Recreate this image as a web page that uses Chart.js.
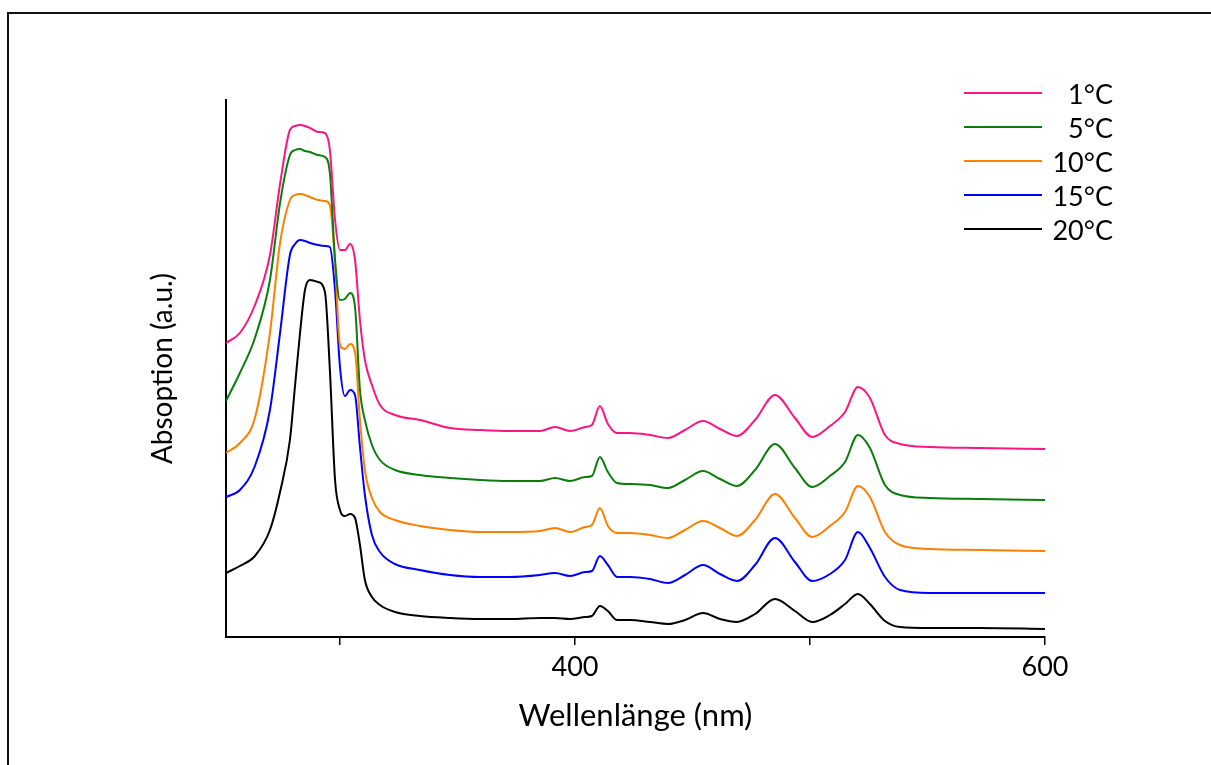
<!DOCTYPE html>
<html>
<head>
<meta charset="utf-8">
<script src="https://cdn.jsdelivr.net/npm/chart.js@4/dist/chart.umd.min.js"></script>
<style>
    html, body { margin: 0; padding: 0; background: #fff; }
    #wrap { position: relative; width: 1211px; height: 765px; overflow: hidden; }
    #frame { position: absolute; left: 7px; top: 12px; width: 1300px; height: 900px;
             border-left: 2px solid #111; border-top: 2px solid #111; }
    canvas { position: absolute; left: 0; top: 0; }
</style>
</head>
<body>
<div id="wrap">
    <div id="frame"></div>
    <canvas id="spectraChart" width="1211" height="765"></canvas>
</div>
<script>
// Wavelength grid (nm)
const wavelengths = [251.5, 257.4, 263.8, 270.2, 274.5, 278.7, 280.9, 283.0, 285.1, 287.2,
    290.6, 293.6, 295.7, 297.9, 300.0, 302.1, 304.3, 306.4, 308.5, 310.6,
    313.6, 317.0, 323.4, 334.0, 346.8, 359.6, 372.3, 385.1, 391.5, 397.9,
    404.3, 407.2, 410.6, 414.0, 417.9, 423.4, 431.9, 439.6, 446.8, 454.5,
    461.7, 468.9, 476.6, 485.1, 493.6, 500.9, 508.5, 514.9, 520.4, 525.5,
    531.9, 538.3, 551.1, 572.3, 600.0];

// Absorption (a.u., curves stacked with offset)
const abs1C = [2.94, 3.04, 3.32, 3.82, 4.53, 5.07, 5.11, 5.12, 5.11, 5.09,
    5.05, 5.04, 4.87, 4.17, 3.87, 3.87, 3.93, 3.77, 3.17, 2.77,
    2.52, 2.32, 2.22, 2.17, 2.09, 2.07, 2.06, 2.06, 2.10, 2.06,
    2.10, 2.12, 2.31, 2.13, 2.04, 2.04, 2.02, 1.99, 2.07, 2.16,
    2.08, 2.01, 2.17, 2.42, 2.19, 2.00, 2.11, 2.25, 2.50, 2.39,
    2.02, 1.93, 1.90, 1.89, 1.88];
const abs5C = [2.36, 2.64, 2.99, 3.57, 4.34, 4.82, 4.87, 4.88, 4.86, 4.85,
    4.82, 4.80, 4.64, 3.77, 3.37, 3.38, 3.44, 3.30, 2.47, 2.17,
    1.92, 1.77, 1.67, 1.62, 1.59, 1.57, 1.56, 1.56, 1.59, 1.56,
    1.60, 1.61, 1.80, 1.65, 1.54, 1.53, 1.52, 1.49, 1.57, 1.66,
    1.58, 1.51, 1.67, 1.93, 1.69, 1.50, 1.61, 1.75, 2.02, 1.89,
    1.52, 1.42, 1.39, 1.38, 1.37];
const abs10C = [1.84, 1.94, 2.19, 3.04, 3.94, 4.37, 4.42, 4.43, 4.42, 4.40,
    4.37, 4.36, 4.32, 3.75, 2.92, 2.88, 2.93, 2.85, 2.17, 1.67,
    1.39, 1.25, 1.17, 1.11, 1.07, 1.05, 1.05, 1.06, 1.09, 1.05,
    1.10, 1.12, 1.29, 1.11, 1.04, 1.04, 1.02, 0.99, 1.07, 1.16,
    1.09, 1.01, 1.17, 1.43, 1.19, 1.00, 1.11, 1.25, 1.51, 1.40,
    1.05, 0.92, 0.88, 0.87, 0.86];
const abs15C = [1.40, 1.47, 1.71, 2.27, 3.04, 3.82, 3.93, 3.97, 3.96, 3.94,
    3.92, 3.91, 3.90, 3.47, 2.70, 2.41, 2.47, 2.42, 1.90, 1.42,
    1.02, 0.85, 0.73, 0.67, 0.62, 0.60, 0.60, 0.62, 0.64, 0.61,
    0.65, 0.66, 0.81, 0.72, 0.60, 0.60, 0.58, 0.54, 0.62, 0.72,
    0.63, 0.56, 0.72, 0.99, 0.75, 0.56, 0.63, 0.77, 1.05, 0.89,
    0.60, 0.47, 0.44, 0.44, 0.44];
const abs20C = [0.64, 0.71, 0.81, 1.07, 1.45, 1.97, 2.52, 3.04, 3.47, 3.57,
    3.55, 3.45, 2.67, 1.57, 1.27, 1.21, 1.23, 1.19, 0.92, 0.57,
    0.40, 0.32, 0.25, 0.21, 0.19, 0.18, 0.18, 0.19, 0.19, 0.18,
    0.20, 0.21, 0.31, 0.26, 0.17, 0.17, 0.15, 0.13, 0.17, 0.24,
    0.18, 0.15, 0.23, 0.38, 0.26, 0.15, 0.22, 0.33, 0.43, 0.33,
    0.16, 0.10, 0.09, 0.09, 0.08];

const seriesLabels = ['1°C', '5°C', '10°C', '15°C', '20°C'];
const seriesColors = ['#ff1483', '#0a7d0a', '#ff8000', '#0000ff', '#000000'];
const xTicks = [300, 400, 500, 600];
const xTickLabels = [400, 600];

const FONT = 'Lato';

function toPoints(values) {
    return wavelengths.map((x, i) => ({ x: x, y: values[i] }));
}

const allSeries = [abs1C, abs5C, abs10C, abs15C, abs20C];

// legend drawn as line + right-aligned label, like the original
const sideLegend = {
    id: 'sideLegend',
    afterDraw(chart) {
        const ctx = chart.ctx;
        ctx.save();
        ctx.font = '27px ' + FONT;
        ctx.textAlign = 'right';
        ctx.textBaseline = 'middle';
        chart.data.datasets.forEach((ds, i) => {
            const y = 93 + i * 34;
            ctx.strokeStyle = ds.borderColor;
            ctx.lineWidth = 2;
            ctx.beginPath();
            ctx.moveTo(964, y);
            ctx.lineTo(1042, y);
            ctx.stroke();
            ctx.fillStyle = '#000';
            ctx.fillText(ds.label, 1113, y + 2);
        });
        ctx.restore();
    }
};

const ctx = document.getElementById('spectraChart').getContext('2d');
new Chart(ctx, {
    type: 'line',
    data: {
        datasets: allSeries.map((vals, i) => ({
            label: seriesLabels[i],
            data: toPoints(vals),
            borderColor: seriesColors[i],
            borderWidth: 2,
            pointRadius: 0,
            fill: false,
            cubicInterpolationMode: 'monotone'
        }))
    },
    options: {
        responsive: false,
        animation: false,
        devicePixelRatio: 1,
        layout: { padding: { left: 146, top: 100, right: 166, bottom: 30 } },
        plugins: {
            legend: { display: false },
            tooltip: { enabled: false }
        },
        scales: {
            x: {
                type: 'linear',
                min: 251.5,
                max: 600,
                afterBuildTicks: scale => { scale.ticks = xTicks.map(v => ({ value: v })); },
                afterFit: scale => { scale.height = 98; },
                grid: { display: true, drawOnChartArea: false, drawTicks: true, tickLength: 8, color: '#000', lineWidth: 1.5 },
                border: { display: true, color: '#000', width: 2 },
                ticks: {
                    color: '#000',
                    font: { family: FONT, size: 27 },
                    padding: 6,
                    maxRotation: 0,
                    autoSkip: false,
                    callback: value => xTickLabels.includes(value) ? String(value) : ''
                },
                title: {
                    display: true,
                    text: 'Wellenlänge (nm)',
                    color: '#000',
                    font: { family: FONT, size: 31 },
                    padding: { top: 0, bottom: 0 }
                }
            },
            y: {
                min: 0,
                max: 5.37,
                afterFit: scale => { scale.width = 80; },
                grid: { display: false },
                border: { display: true, color: '#000', width: 2 },
                ticks: { display: false },
                title: {
                    display: true,
                    text: 'Absoption (a.u.)',
                    color: '#000',
                    font: { family: FONT, size: 28 },
                    padding: { top: 0, bottom: 0 }
                }
            }
        }
    },
    plugins: [sideLegend]
});
</script>
</body>
</html>
